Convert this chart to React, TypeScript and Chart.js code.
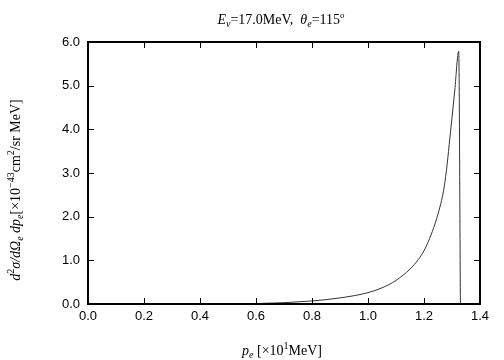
import React, { useEffect, useRef } from "react";
import { Chart, registerables } from "chart.js";
Chart.register(...registerables);

// electron momentum p_e [x10 MeV]
const momentum = [
  0.55, 0.6, 0.65, 0.7, 0.75, 0.8, 0.85, 0.9, 0.95, 1.0, 1.05, 1.1, 1.15, 1.18,
  1.2, 1.22, 1.24, 1.26, 1.27, 1.28, 1.29, 1.3, 1.31, 1.324, 1.33,
];
// d^2 sigma / dOmega dp  [x10^-43 cm^2/sr MeV]
const crossSection = [
  0.0, 0.01, 0.02, 0.03, 0.05, 0.07, 0.1, 0.14, 0.19, 0.26, 0.37, 0.54, 0.8, 1.02,
  1.22, 1.5, 1.85, 2.3, 2.6, 3.05, 3.65, 4.27, 4.9, 5.79, 0.0,
];
const xTickValues = [0, 0.2, 0.4, 0.6, 0.8, 1.0, 1.2, 1.4];
const yTickValues = [0, 1, 2, 3, 4, 5, 6];

type Run = { t: string; it?: boolean; s?: number; dy?: number };

const SERIF = '"Liberation Serif", "DejaVu Serif", serif';

function drawRuns(ctx: CanvasRenderingContext2D, runs: Run[], x: number, y: number) {
  const fonts = runs.map((r) => `${r.it ? "italic " : ""}${r.s ?? 14}px ${SERIF}`);
  let w = 0;
  runs.forEach((r, i) => {
    ctx.font = fonts[i];
    w += ctx.measureText(r.t).width;
  });
  let cx = x - w / 2;
  ctx.textAlign = "left";
  ctx.textBaseline = "alphabetic";
  runs.forEach((r, i) => {
    ctx.font = fonts[i];
    ctx.fillText(r.t, cx, y + (r.dy ?? 0));
    cx += ctx.measureText(r.t).width;
  });
}

const titleRuns: Run[] = [
  { t: "E", it: true },
  { t: "ν", it: true, s: 10, dy: 3 },
  { t: "=17.0MeV,  " },
  { t: "θ", it: true },
  { t: "e", it: true, s: 10, dy: 3 },
  { t: "=115" },
  { t: "o", s: 9, dy: -6 },
];
const yLabelRuns: Run[] = [
  { t: "d", it: true },
  { t: "2", s: 10, dy: -6 },
  { t: "σ/dΩ", it: true },
  { t: "e", it: true, s: 10, dy: 3 },
  { t: " dp", it: true },
  { t: "e", it: true, s: 10, dy: 3 },
  { t: "[×10" },
  { t: "−43", s: 10, dy: -6 },
  { t: "cm" },
  { t: "2", s: 10, dy: -6 },
  { t: "/sr MeV]" },
];
const xLabelRuns: Run[] = [
  { t: "p", it: true },
  { t: "e", it: true, s: 10, dy: 3 },
  { t: " [×10" },
  { t: "1", s: 10, dy: -6 },
  { t: "MeV]" },
];

const framePlugin = {
  id: "frame",
  afterDraw(chart: any) {
    const ctx: CanvasRenderingContext2D = chart.ctx;
    const { left, right, top, bottom } = chart.chartArea;
    const xs = chart.scales.x;
    const ys = chart.scales.y;
    ctx.save();
    ctx.strokeStyle = "#000";
    ctx.lineWidth = 1;
    const tl = 6;
    ctx.beginPath();
    xTickValues.forEach((v) => {
      const px = Math.round(xs.getPixelForValue(v)) + 0.5;
      ctx.moveTo(px, bottom);
      ctx.lineTo(px, bottom - tl);
      ctx.moveTo(px, top);
      ctx.lineTo(px, top + tl);
    });
    yTickValues.forEach((v) => {
      const py = Math.round(ys.getPixelForValue(v)) + 0.5;
      ctx.moveTo(left, py);
      ctx.lineTo(left + tl, py);
      ctx.moveTo(right, py);
      ctx.lineTo(right - tl, py);
    });
    ctx.stroke();
    ctx.lineWidth = 2;
    ctx.strokeRect(left, top, right - left, bottom - top);

    ctx.fillStyle = "#000";
    const cx = (left + right) / 2;
    drawRuns(ctx, titleRuns, cx - 3, 24);
    drawRuns(ctx, xLabelRuns, cx - 2, 355);
    ctx.save();
    ctx.translate(20, 190);
    ctx.rotate(-Math.PI / 2);
    drawRuns(ctx, yLabelRuns, 0, 0);
    ctx.restore();
    ctx.restore();
  },
};

export default function App() {
  const ref = useRef<HTMLCanvasElement | null>(null);
  useEffect(() => {
    document.body.style.margin = "0";
    const canvas = ref.current!;
    const data = momentum.map((x, i) => ({ x, y: crossSection[i] }));
    const tickFont = { family: '"Liberation Sans", Arial, sans-serif', size: 13 };
    const chart = new Chart(canvas, {
      type: "line",
      data: {
        datasets: [
          {
            data,
            borderColor: "#333",
            borderWidth: 1,
            pointRadius: 0,
            fill: false,
            cubicInterpolationMode: "monotone",
          },
        ],
      },
      plugins: [framePlugin],
      options: {
        animation: false,
        responsive: false,
        maintainAspectRatio: false,
        layout: { padding: { top: 42, right: 24, left: 0, bottom: 0 } },
        plugins: { legend: { display: false }, title: { display: false }, tooltip: { enabled: false } },
        scales: {
          x: {
            type: "linear",
            min: 0,
            max: 1.4,
            afterFit: (s: any) => {
              s.height = 56;
            },
            afterBuildTicks: (s: any) => {
              s.ticks = xTickValues.map((v) => ({ value: v }));
            },
            ticks: {
              color: "#000",
              font: tickFont,
              padding: 5,
              maxRotation: 0,
              callback: (v: any) => Number(v).toFixed(1),
            },
            grid: { display: false, drawTicks: false },
            border: { display: false },
          },
          y: {
            type: "linear",
            min: 0,
            max: 6,
            afterFit: (s: any) => {
              s.width = 88;
            },
            afterBuildTicks: (s: any) => {
              s.ticks = yTickValues.map((v) => ({ value: v }));
            },
            ticks: {
              color: "#000",
              font: tickFont,
              padding: 8,
              callback: (v: any) => Number(v).toFixed(1),
            },
            grid: { display: false, drawTicks: false },
            border: { display: false },
          },
        },
      },
    } as any);
    return () => chart.destroy();
  }, []);
  return (
    <div style={{ width: 504, height: 360 }}>
      <canvas ref={ref} width={504} height={360} style={{ width: 504, height: 360 }} />
    </div>
  );
}
